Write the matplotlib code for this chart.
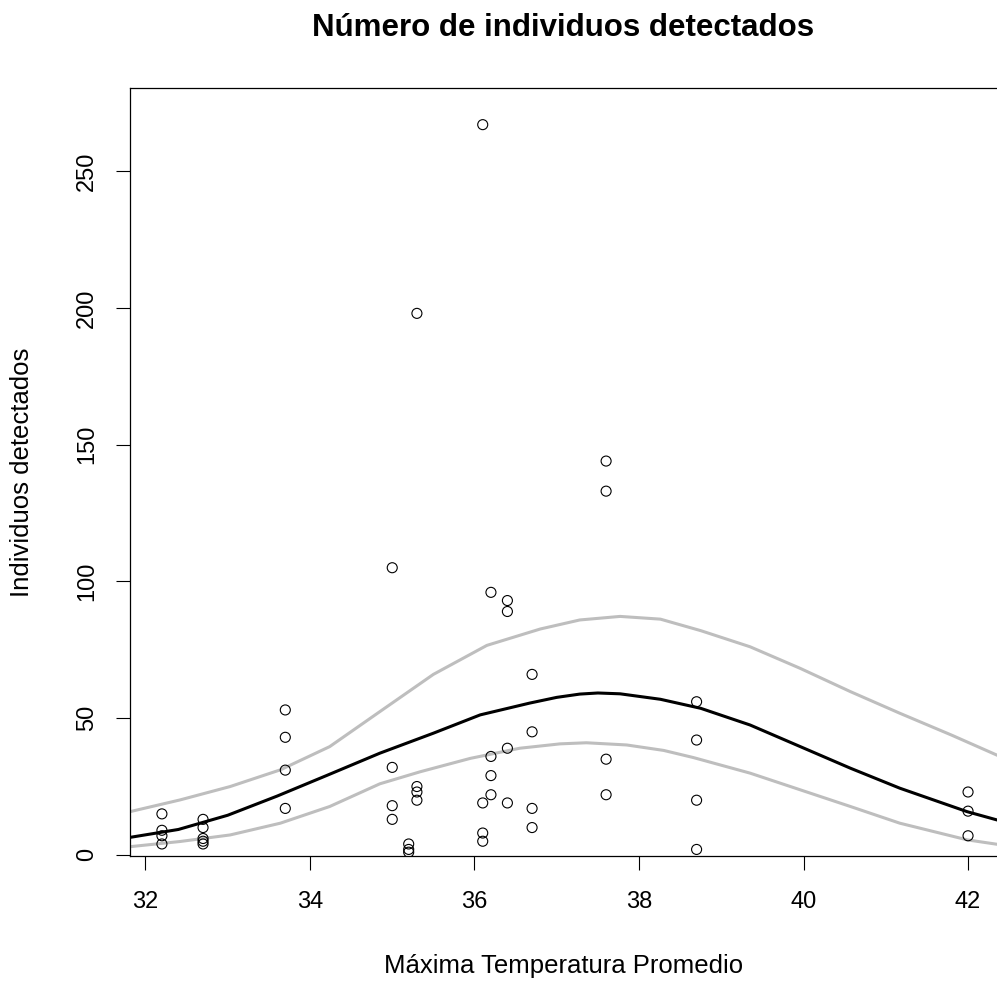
import matplotlib
matplotlib.use("Agg")
import matplotlib.pyplot as plt
import numpy as np

# observed counts vs max temperature
temp = [32.2, 32.2, 32.2, 32.2,
        32.7, 32.7, 32.7, 32.7, 32.7,
        33.7, 33.7, 33.7, 33.7,
        35.0, 35.0, 35.0, 35.0,
        35.2, 35.2, 35.2,
        35.3, 35.3, 35.3, 35.3,
        36.1, 36.1, 36.1, 36.1,
        36.2, 36.2, 36.2, 36.2,
        36.4, 36.4, 36.4, 36.4,
        36.7, 36.7, 36.7, 36.7,
        37.6, 37.6, 37.6, 37.6,
        38.7, 38.7, 38.7, 38.7,
        42.0, 42.0, 42.0]
count = [15, 9, 7, 4,
         13, 10, 6, 5, 4,
         53, 43, 31, 17,
         105, 32, 18, 13,
         4, 2, 1,
         198, 25, 23, 20,
         267, 19, 8, 5,
         96, 36, 29, 22,
         93, 89, 39, 19,
         66, 45, 17, 10,
         144, 133, 35, 22,
         56, 42, 20, 2,
         23, 16, 7]

# fitted curve and band
fit_x = [31.81, 32.4, 33.0, 33.6, 34.2, 34.85, 35.5, 36.07, 36.67, 37.0, 37.28,
         37.5, 37.77, 38.26, 38.75, 39.35, 39.96, 40.57, 41.17, 41.99, 42.35]
fit_y = [6.4, 9.3, 14.5, 21.5, 29.0, 37.2, 44.5, 51.2, 55.5, 57.6, 58.8,
         59.2, 58.9, 56.9, 53.6, 47.5, 39.6, 31.7, 24.4, 15.8, 12.8]

up_x = [31.81, 32.42, 33.03, 33.64, 34.24, 34.85, 35.5, 36.15, 36.8, 37.28,
        37.77, 38.26, 38.75, 39.35, 39.96, 40.57, 41.17, 41.8, 42.35]
up_y = [15.8, 20.1, 25.0, 31.1, 39.6, 52.4, 66.0, 76.6, 82.6, 85.9,
        87.2, 86.2, 82.0, 76.1, 68.2, 59.7, 51.8, 43.8, 36.5]

lo_x = [31.81, 32.42, 33.03, 33.64, 34.24, 34.85, 35.34, 35.95, 36.55, 37.04,
        37.36, 37.85, 38.3, 38.66, 39.35, 39.96, 40.57, 41.17, 41.99, 42.35]
lo_y = [3.0, 4.9, 7.3, 11.6, 17.7, 26.0, 30.4, 35.3, 39.0, 40.6,
        41.0, 40.2, 38.2, 35.6, 29.9, 23.8, 17.7, 11.6, 5.5, 3.9]

xticks = [32, 34, 36, 38, 40, 42]
yticks = [0, 50, 100, 150, 200, 250]

plt.rcParams['font.family'] = ['Liberation Sans', 'DejaVu Sans']

fig = plt.figure(figsize=(9.97, 9.81), dpi=100)
ax = fig.add_axes([130 / 997, 1 - 856 / 981, 1 - 130 / 997, (856 - 88) / 981])

ax.plot(up_x, up_y, color='#bebebe', lw=2.2)
ax.plot(lo_x, lo_y, color='#bebebe', lw=2.2)
ax.plot(fit_x, fit_y, color='black', lw=2.2)
ax.scatter(temp, count, s=52, facecolors='none', edgecolors='black', linewidths=0.8, zorder=3)

ax.set_xlim(31.812, 42.352)
ax.set_ylim(-0.4, 280.4)
ax.set_xticks(xticks)
ax.set_yticks(yticks)
ax.set_yticklabels([str(v) for v in yticks], rotation=90, va='center')
ax.tick_params(axis='both', length=10, width=0.8, labelsize=17)
ax.tick_params(axis='x', pad=15)
ax.tick_params(axis='y', pad=13)

ax.spines['right'].set_visible(False)
for s in ['left', 'top', 'bottom']:
    ax.spines[s].set_linewidth(0.9)

ax.set_xlabel('Máxima Temperatura Promedio', fontsize=18.5, labelpad=30)
ax.set_ylabel('Individuos detectados', fontsize=18.5, labelpad=30)
fig.text(563 / 997, 1 - 28 / 981, 'Número de individuos detectados',
         ha='center', va='center', fontsize=22.5, fontweight='bold')

fig.savefig('out.png', dpi=100)
